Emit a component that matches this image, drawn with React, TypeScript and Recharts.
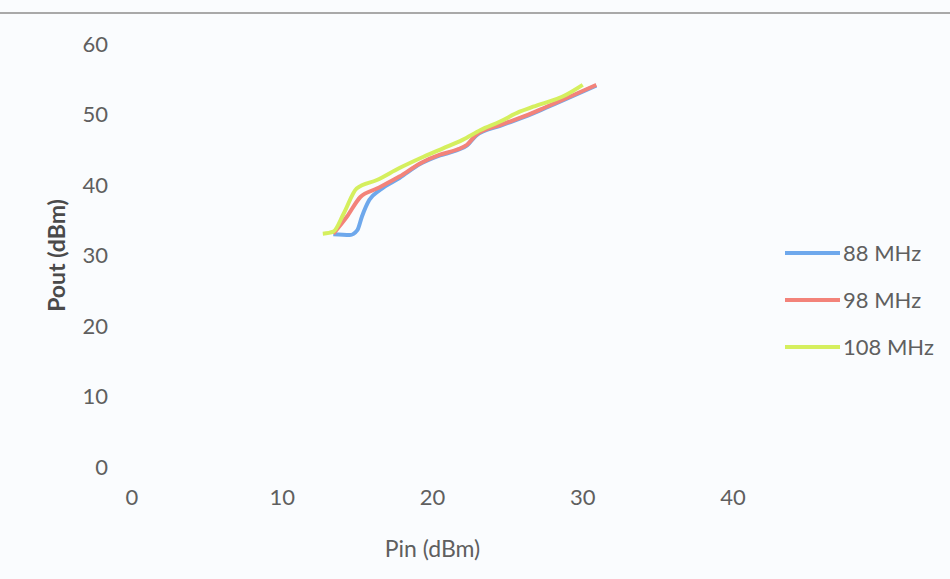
import React from "react";
import { LineChart, Line, XAxis, YAxis } from "recharts";

// Input power (dBm) and output power (dBm) per carrier frequency
const pin88 = [13.4, 14.5, 15.0, 15.3, 15.8, 16.5, 17.8, 19.2, 20.5, 21.6, 22.3, 22.9, 24.5, 26.3, 27.6, 28.9, 30.9];
const pout88 = [33.0, 32.9, 33.6, 35.5, 37.9, 39.3, 41.0, 43.0, 44.2, 44.9, 45.6, 47.0, 48.4, 49.8, 51.0, 52.2, 54.1];

const pin98 = [13.4, 14.3, 15.2, 16.3, 17.8, 19.2, 20.5, 21.6, 22.3, 22.9, 24.5, 26.3, 27.6, 28.9, 30.9];
const pout98 = [33.1, 35.5, 38.3, 39.5, 41.2, 43.1, 44.3, 45.0, 45.7, 47.1, 48.5, 49.9, 51.1, 52.3, 54.2];

const pin108 = [12.7, 13.4, 14.1, 14.95, 16.3, 17.8, 19.4, 20.7, 22.0, 23.2, 24.5, 25.8, 26.7, 28.9, 30.0];
const pout108 = [33.1, 33.4, 36.0, 39.5, 40.7, 42.4, 44.0, 45.2, 46.4, 47.8, 49.0, 50.4, 51.1, 52.8, 54.2];

const xTicks = [0, 10, 20, 30, 40];
const yTicks = [0, 10, 20, 30, 40, 50, 60];

const seriesNames = ["88 MHz", "98 MHz", "108 MHz"];
const seriesColors = ["#6ea8ec", "#f3837a", "#d5ef5e"];

const toPoints = (xs: number[], ys: number[]) => xs.map((x, i) => ({ pin: x, pout: ys[i] }));

const series = [
  { name: seriesNames[0], color: seriesColors[0], data: toPoints(pin88, pout88) },
  { name: seriesNames[1], color: seriesColors[1], data: toPoints(pin98, pout98) },
  { name: seriesNames[2], color: seriesColors[2], data: toPoints(pin108, pout108) },
];

const FONT = "Lato, 'Open Sans', sans-serif";
const TEXT_GRAY = "#5f5f5f";

function LegendList() {
  return (
    <div style={{ position: "absolute", left: 785, top: 229, fontFamily: FONT }}>
      {series.map((s) => (
        <div key={s.name} style={{ display: "flex", alignItems: "center", height: 47 }}>
          <div style={{ width: 55, height: 4, background: s.color, marginRight: 3 }} />
          <span style={{ fontSize: 22, color: TEXT_GRAY }}>{s.name}</span>
        </div>
      ))}
    </div>
  );
}

export default function App() {
  return (
    <div
      style={{
        position: "absolute",
        left: 0,
        top: 0,
        width: 950,
        height: 579,
        background: "#fafcfe",
        overflow: "hidden",
      }}
    >
      <div
        style={{
          position: "absolute",
          left: 0,
          top: 12,
          width: 950,
          height: 2,
          background: "#a9a9a9",
        }}
      />
      <LineChart
        width={950}
        height={579}
        margin={{ top: 44, right: 217, bottom: 17, left: 40 }}
        style={{ fontFamily: FONT }}
      >
        <XAxis
          type="number"
          dataKey="pin"
          domain={[0, 40]}
          ticks={xTicks}
          axisLine={false}
          tickLine={false}
          tickSize={0}
          tickMargin={22}
          height={95}
          tick={{ fill: TEXT_GRAY, fontSize: 22, fontFamily: FONT }}
          label={{
            value: "Pin (dBm)",
            position: "insideBottom",
            offset: 5,
            fill: TEXT_GRAY,
            fontSize: 23,
            fontFamily: FONT,
          }}
        />
        <YAxis
          type="number"
          dataKey="pout"
          domain={[0, 60]}
          ticks={yTicks}
          axisLine={false}
          tickLine={false}
          tickSize={0}
          tickMargin={24}
          width={92}
          tick={{ fill: TEXT_GRAY, fontSize: 22, fontFamily: FONT }}
          label={{
            value: "Pout (dBm)",
            angle: -90,
            position: "insideLeft",
            offset: 17,
            fill: "#4a4a4a",
            fontSize: 23,
            fontWeight: 700,
            fontFamily: FONT,
            style: { textAnchor: "middle" },
          }}
        />
        {series.map((s) => (
          <Line
            key={s.name}
            name={s.name}
            data={s.data}
            dataKey="pout"
            type="monotone"
            stroke={s.color}
            strokeWidth={4}
            dot={false}
            activeDot={false}
            isAnimationActive={false}
          />
        ))}
      </LineChart>
      <LegendList />
    </div>
  );
}
